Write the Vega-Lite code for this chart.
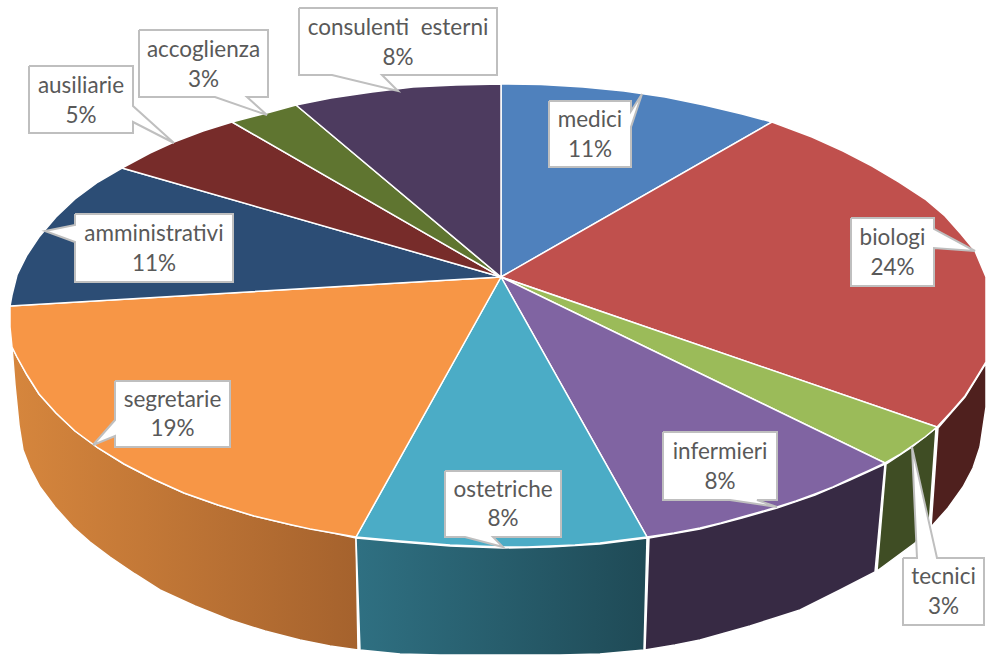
{"$schema":"https://vega.github.io/schema/vega-lite/v6.json","width":986,"height":655,"padding":0,"autosize":{"type":"none"},"background":"white","view":{"stroke":null},
"datasets":{
"tops":[
{"part":"medici","i":0,"x":501,"y":277},{"part":"medici","i":1,"x":501,"y":84},{"part":"medici","i":2,"x":541,"y":84.5},{"part":"medici","i":3,"x":583,"y":87},{"part":"medici","i":4,"x":624,"y":91},{"part":"medici","i":5,"x":665,"y":97},{"part":"medici","i":6,"x":704,"y":105},{"part":"medici","i":7,"x":742,"y":114},{"part":"medici","i":8,"x":772,"y":122},{"part":"medici","i":9,"x":501,"y":277},
{"part":"biologi","i":0,"x":501,"y":277},{"part":"biologi","i":1,"x":772,"y":122},{"part":"biologi","i":2,"x":812,"y":137},{"part":"biologi","i":3,"x":843,"y":151},{"part":"biologi","i":4,"x":872,"y":166},{"part":"biologi","i":5,"x":899,"y":182},{"part":"biologi","i":6,"x":925,"y":199},{"part":"biologi","i":7,"x":945,"y":216},{"part":"biologi","i":8,"x":961,"y":234},{"part":"biologi","i":9,"x":975,"y":251},{"part":"biologi","i":10,"x":986,"y":277},{"part":"biologi","i":11,"x":986,"y":362},{"part":"biologi","i":12,"x":975,"y":380},{"part":"biologi","i":13,"x":965,"y":396},{"part":"biologi","i":14,"x":951,"y":412},{"part":"biologi","i":15,"x":937,"y":427},{"part":"biologi","i":16,"x":501,"y":277},
{"part":"tecnici","i":0,"x":501,"y":277},{"part":"tecnici","i":1,"x":937,"y":427},{"part":"tecnici","i":2,"x":925,"y":437},{"part":"tecnici","i":3,"x":912,"y":446},{"part":"tecnici","i":4,"x":899,"y":455},{"part":"tecnici","i":5,"x":885,"y":463},{"part":"tecnici","i":6,"x":501,"y":277},
{"part":"infermieri","i":0,"x":501,"y":277},{"part":"infermieri","i":1,"x":885,"y":463},{"part":"infermieri","i":2,"x":868,"y":471},{"part":"infermieri","i":3,"x":850,"y":479},{"part":"infermieri","i":4,"x":833,"y":487},{"part":"infermieri","i":5,"x":815,"y":494},{"part":"infermieri","i":6,"x":796,"y":501},{"part":"infermieri","i":7,"x":777,"y":507},{"part":"infermieri","i":8,"x":760,"y":512},{"part":"infermieri","i":9,"x":742,"y":517},{"part":"infermieri","i":10,"x":721,"y":523},{"part":"infermieri","i":11,"x":700,"y":528},{"part":"infermieri","i":12,"x":674,"y":533},{"part":"infermieri","i":13,"x":647,"y":537},{"part":"infermieri","i":14,"x":501,"y":277},
{"part":"ostetriche","i":0,"x":501,"y":277},{"part":"ostetriche","i":1,"x":647,"y":537},{"part":"ostetriche","i":2,"x":623,"y":540},{"part":"ostetriche","i":3,"x":600,"y":543},{"part":"ostetriche","i":4,"x":575,"y":545},{"part":"ostetriche","i":5,"x":550,"y":546},{"part":"ostetriche","i":6,"x":527,"y":547},{"part":"ostetriche","i":7,"x":503,"y":547},{"part":"ostetriche","i":8,"x":477,"y":546},{"part":"ostetriche","i":9,"x":450,"y":545},{"part":"ostetriche","i":10,"x":425,"y":543},{"part":"ostetriche","i":11,"x":400,"y":541},{"part":"ostetriche","i":12,"x":378,"y":539},{"part":"ostetriche","i":13,"x":356,"y":537},{"part":"ostetriche","i":14,"x":501,"y":277},
{"part":"segretarie","i":0,"x":501,"y":277},{"part":"segretarie","i":1,"x":356,"y":537},{"part":"segretarie","i":2,"x":333,"y":533},{"part":"segretarie","i":3,"x":310,"y":529},{"part":"segretarie","i":4,"x":292,"y":525},{"part":"segretarie","i":5,"x":254,"y":516},{"part":"segretarie","i":6,"x":218,"y":505},{"part":"segretarie","i":7,"x":184,"y":493},{"part":"segretarie","i":8,"x":153,"y":479},{"part":"segretarie","i":9,"x":124,"y":464},{"part":"segretarie","i":10,"x":98,"y":448},{"part":"segretarie","i":11,"x":75,"y":431},{"part":"segretarie","i":12,"x":56,"y":413},{"part":"segretarie","i":13,"x":39,"y":394},{"part":"segretarie","i":14,"x":27,"y":375},{"part":"segretarie","i":15,"x":17,"y":357},{"part":"segretarie","i":16,"x":12,"y":347},{"part":"segretarie","i":17,"x":10,"y":327},{"part":"segretarie","i":18,"x":10,"y":306},{"part":"segretarie","i":19,"x":501,"y":277},
{"part":"amministrativi","i":0,"x":501,"y":277},{"part":"amministrativi","i":1,"x":10,"y":306},{"part":"amministrativi","i":2,"x":12,"y":295},{"part":"amministrativi","i":3,"x":17,"y":275},{"part":"amministrativi","i":4,"x":27,"y":255},{"part":"amministrativi","i":5,"x":39,"y":237},{"part":"amministrativi","i":6,"x":56,"y":217},{"part":"amministrativi","i":7,"x":75,"y":199},{"part":"amministrativi","i":8,"x":98,"y":182},{"part":"amministrativi","i":9,"x":122,"y":168},{"part":"amministrativi","i":10,"x":501,"y":277},
{"part":"ausiliarie","i":0,"x":501,"y":277},{"part":"ausiliarie","i":1,"x":122,"y":168},{"part":"ausiliarie","i":2,"x":150,"y":153},{"part":"ausiliarie","i":3,"x":174,"y":142},{"part":"ausiliarie","i":4,"x":203,"y":131},{"part":"ausiliarie","i":5,"x":232,"y":122},{"part":"ausiliarie","i":6,"x":501,"y":277},
{"part":"accoglienza","i":0,"x":501,"y":277},{"part":"accoglienza","i":1,"x":232,"y":122},{"part":"accoglienza","i":2,"x":267,"y":113},{"part":"accoglienza","i":3,"x":296,"y":105},{"part":"accoglienza","i":4,"x":501,"y":277},
{"part":"consulenti \u00a0esterni","i":0,"x":501,"y":277},{"part":"consulenti \u00a0esterni","i":1,"x":296,"y":105},{"part":"consulenti \u00a0esterni","i":2,"x":331,"y":98},{"part":"consulenti \u00a0esterni","i":3,"x":372,"y":92},{"part":"consulenti \u00a0esterni","i":4,"x":413,"y":87},{"part":"consulenti \u00a0esterni","i":5,"x":456,"y":85},{"part":"consulenti \u00a0esterni","i":6,"x":501,"y":84},{"part":"consulenti \u00a0esterni","i":7,"x":501,"y":277}
],
"walls":[
{"part":"segretarie","i":0,"x":12,"y":347},{"part":"segretarie","i":1,"x":17,"y":357},{"part":"segretarie","i":2,"x":27,"y":375},{"part":"segretarie","i":3,"x":39,"y":394},{"part":"segretarie","i":4,"x":56,"y":413},{"part":"segretarie","i":5,"x":75,"y":431},{"part":"segretarie","i":6,"x":98,"y":448},{"part":"segretarie","i":7,"x":124,"y":464},{"part":"segretarie","i":8,"x":153,"y":479},{"part":"segretarie","i":9,"x":184,"y":493},{"part":"segretarie","i":10,"x":218,"y":505},{"part":"segretarie","i":11,"x":254,"y":516},{"part":"segretarie","i":12,"x":292,"y":525},{"part":"segretarie","i":13,"x":333,"y":533},{"part":"segretarie","i":14,"x":356,"y":538},{"part":"segretarie","i":15,"x":358,"y":650},{"part":"segretarie","i":16,"x":330,"y":646},{"part":"segretarie","i":17,"x":300,"y":640},{"part":"segretarie","i":18,"x":265,"y":631},{"part":"segretarie","i":19,"x":230,"y":620},{"part":"segretarie","i":20,"x":195,"y":606},{"part":"segretarie","i":21,"x":160,"y":590},{"part":"segretarie","i":22,"x":135,"y":574},{"part":"segretarie","i":23,"x":110,"y":557},{"part":"segretarie","i":24,"x":90,"y":542},{"part":"segretarie","i":25,"x":73,"y":527},{"part":"segretarie","i":26,"x":55,"y":507},{"part":"segretarie","i":27,"x":40,"y":487},{"part":"segretarie","i":28,"x":30,"y":468},{"part":"segretarie","i":29,"x":23,"y":450},{"part":"segretarie","i":30,"x":19,"y":425},{"part":"segretarie","i":31,"x":15,"y":385},{"part":"segretarie","i":32,"x":12,"y":347},
{"part":"ostetriche","i":0,"x":356,"y":538},{"part":"ostetriche","i":1,"x":400,"y":542},{"part":"ostetriche","i":2,"x":450,"y":546},{"part":"ostetriche","i":3,"x":503,"y":548},{"part":"ostetriche","i":4,"x":550,"y":547},{"part":"ostetriche","i":5,"x":600,"y":544},{"part":"ostetriche","i":6,"x":647,"y":538},{"part":"ostetriche","i":7,"x":644,"y":650},{"part":"ostetriche","i":8,"x":600,"y":654},{"part":"ostetriche","i":9,"x":560,"y":655},{"part":"ostetriche","i":10,"x":440,"y":655},{"part":"ostetriche","i":11,"x":400,"y":654},{"part":"ostetriche","i":12,"x":360,"y":650},{"part":"ostetriche","i":13,"x":356,"y":538},
{"part":"infermieri","i":0,"x":649,"y":538},{"part":"infermieri","i":1,"x":700,"y":529},{"part":"infermieri","i":2,"x":742,"y":518},{"part":"infermieri","i":3,"x":777,"y":508},{"part":"infermieri","i":4,"x":815,"y":495},{"part":"infermieri","i":5,"x":850,"y":480},{"part":"infermieri","i":6,"x":885,"y":464},{"part":"infermieri","i":7,"x":875,"y":572},{"part":"infermieri","i":8,"x":840,"y":590},{"part":"infermieri","i":9,"x":820,"y":600},{"part":"infermieri","i":10,"x":800,"y":610},{"part":"infermieri","i":11,"x":775,"y":618},{"part":"infermieri","i":12,"x":750,"y":626},{"part":"infermieri","i":13,"x":725,"y":633},{"part":"infermieri","i":14,"x":700,"y":640},{"part":"infermieri","i":15,"x":675,"y":645},{"part":"infermieri","i":16,"x":645,"y":650},{"part":"infermieri","i":17,"x":649,"y":538},
{"part":"tecnici","i":0,"x":886,"y":464},{"part":"tecnici","i":1,"x":912,"y":447},{"part":"tecnici","i":2,"x":936,"y":428},{"part":"tecnici","i":3,"x":929,"y":527},{"part":"tecnici","i":4,"x":915,"y":543},{"part":"tecnici","i":5,"x":877,"y":571},{"part":"tecnici","i":6,"x":886,"y":464},
{"part":"biologi","i":0,"x":938,"y":428},{"part":"biologi","i":1,"x":951,"y":413},{"part":"biologi","i":2,"x":965,"y":397},{"part":"biologi","i":3,"x":986,"y":363},{"part":"biologi","i":4,"x":986,"y":407},{"part":"biologi","i":5,"x":980,"y":447},{"part":"biologi","i":6,"x":973,"y":468},{"part":"biologi","i":7,"x":963,"y":487},{"part":"biologi","i":8,"x":948,"y":508},{"part":"biologi","i":9,"x":931,"y":527},{"part":"biologi","i":10,"x":938,"y":428}
],
"callouts":[
{"part":"medici","i":0,"x":549,"y":101},{"part":"medici","i":1,"x":631,"y":101},{"part":"medici","i":2,"x":631,"y":111},{"part":"medici","i":3,"x":642,"y":94},{"part":"medici","i":4,"x":631,"y":127},{"part":"medici","i":5,"x":631,"y":167},{"part":"medici","i":6,"x":549,"y":167},{"part":"medici","i":7,"x":549,"y":101},
{"part":"biologi","i":0,"x":851,"y":218},{"part":"biologi","i":1,"x":934,"y":218},{"part":"biologi","i":2,"x":934,"y":229},{"part":"biologi","i":3,"x":975,"y":251},{"part":"biologi","i":4,"x":934,"y":248},{"part":"biologi","i":5,"x":934,"y":286},{"part":"biologi","i":6,"x":851,"y":286},{"part":"biologi","i":7,"x":851,"y":218},
{"part":"tecnici","i":0,"x":903,"y":558},{"part":"tecnici","i":1,"x":917,"y":558},{"part":"tecnici","i":2,"x":912,"y":447},{"part":"tecnici","i":3,"x":937,"y":558},{"part":"tecnici","i":4,"x":984,"y":558},{"part":"tecnici","i":5,"x":984,"y":625},{"part":"tecnici","i":6,"x":903,"y":625},{"part":"tecnici","i":7,"x":903,"y":558},
{"part":"infermieri","i":0,"x":663,"y":432},{"part":"infermieri","i":1,"x":777,"y":432},{"part":"infermieri","i":2,"x":777,"y":500},{"part":"infermieri","i":3,"x":757,"y":500},{"part":"infermieri","i":4,"x":777,"y":507},{"part":"infermieri","i":5,"x":730,"y":500},{"part":"infermieri","i":6,"x":663,"y":500},{"part":"infermieri","i":7,"x":663,"y":432},
{"part":"ostetriche","i":0,"x":445,"y":471},{"part":"ostetriche","i":1,"x":561,"y":471},{"part":"ostetriche","i":2,"x":561,"y":537},{"part":"ostetriche","i":3,"x":493,"y":537},{"part":"ostetriche","i":4,"x":503,"y":547},{"part":"ostetriche","i":5,"x":465,"y":537},{"part":"ostetriche","i":6,"x":445,"y":537},{"part":"ostetriche","i":7,"x":445,"y":471},
{"part":"segretarie","i":0,"x":115,"y":381},{"part":"segretarie","i":1,"x":230,"y":381},{"part":"segretarie","i":2,"x":230,"y":447},{"part":"segretarie","i":3,"x":115,"y":447},{"part":"segretarie","i":4,"x":115,"y":436},{"part":"segretarie","i":5,"x":93,"y":445},{"part":"segretarie","i":6,"x":115,"y":420},{"part":"segretarie","i":7,"x":115,"y":381},
{"part":"amministrativi","i":0,"x":75,"y":214},{"part":"amministrativi","i":1,"x":233,"y":214},{"part":"amministrativi","i":2,"x":233,"y":282},{"part":"amministrativi","i":3,"x":75,"y":282},{"part":"amministrativi","i":4,"x":75,"y":242},{"part":"amministrativi","i":5,"x":45,"y":231},{"part":"amministrativi","i":6,"x":75,"y":225},{"part":"amministrativi","i":7,"x":75,"y":214},
{"part":"ausiliarie","i":0,"x":29,"y":66},{"part":"ausiliarie","i":1,"x":133,"y":66},{"part":"ausiliarie","i":2,"x":133,"y":106},{"part":"ausiliarie","i":3,"x":174,"y":143},{"part":"ausiliarie","i":4,"x":133,"y":122},{"part":"ausiliarie","i":5,"x":133,"y":133},{"part":"ausiliarie","i":6,"x":29,"y":133},{"part":"ausiliarie","i":7,"x":29,"y":66},
{"part":"accoglienza","i":0,"x":139,"y":30},{"part":"accoglienza","i":1,"x":268,"y":30},{"part":"accoglienza","i":2,"x":268,"y":97},{"part":"accoglienza","i":3,"x":247,"y":97},{"part":"accoglienza","i":4,"x":267,"y":115},{"part":"accoglienza","i":5,"x":215,"y":97},{"part":"accoglienza","i":6,"x":139,"y":97},{"part":"accoglienza","i":7,"x":139,"y":30},
{"part":"consulenti \u00a0esterni","i":0,"x":299,"y":8},{"part":"consulenti \u00a0esterni","i":1,"x":497,"y":8},{"part":"consulenti \u00a0esterni","i":2,"x":497,"y":75},{"part":"consulenti \u00a0esterni","i":3,"x":382,"y":75},{"part":"consulenti \u00a0esterni","i":4,"x":398,"y":91},{"part":"consulenti \u00a0esterni","i":5,"x":332,"y":75},{"part":"consulenti \u00a0esterni","i":6,"x":299,"y":75},{"part":"consulenti \u00a0esterni","i":7,"x":299,"y":8}
],
"labels":[
{"part":"medici","share":0.11,"cx":590,"y1":120,"y2":150},
{"part":"biologi","share":0.24,"cx":892.5,"y1":238,"y2":268},
{"part":"tecnici","share":0.03,"cx":943.5,"y1":577,"y2":607},
{"part":"infermieri","share":0.08,"cx":720,"y1":452,"y2":482},
{"part":"ostetriche","share":0.08,"cx":503,"y1":490,"y2":519},
{"part":"segretarie","share":0.19,"cx":172.5,"y1":400,"y2":429},
{"part":"amministrativi","share":0.11,"cx":154,"y1":234,"y2":264},
{"part":"ausiliarie","share":0.05,"cx":81,"y1":86,"y2":116},
{"part":"accoglienza","share":0.03,"cx":203.5,"y1":50,"y2":80},
{"part":"consulenti \u00a0esterni","share":0.08,"cx":398,"y1":28,"y2":58}
]},
"encoding":{
"x":{"field":"x","type":"quantitative","scale":{"domain":[0,986],"nice":false,"zero":false},"axis":null},
"y":{"field":"y","type":"quantitative","scale":{"domain":[655,0],"nice":false,"zero":false},"axis":null}
},
"layer":[
{"data":{"name":"walls"},"transform":[{"filter":"datum.part=='segretarie'"}],"mark":{"type":"line","strokeWidth":1.5,"stroke":"white","fill":{"gradient":"linear","x1":0,"x2":1,"y1":0,"y2":0,"stops":[{"offset":0,"color":"#D6863D"},{"offset":1,"color":"#A5622D"}]}},"encoding":{"order":{"field":"i"}}},
{"data":{"name":"walls"},"transform":[{"filter":"datum.part=='ostetriche'"}],"mark":{"type":"line","strokeWidth":1.5,"stroke":"white","fill":{"gradient":"linear","x1":0,"x2":1,"y1":0,"y2":0,"stops":[{"offset":0,"color":"#2F7082"},{"offset":1,"color":"#1F4A56"}]}},"encoding":{"order":{"field":"i"}}},
{"data":{"name":"walls"},"transform":[{"filter":"datum.part=='infermieri'"}],"mark":{"type":"line","strokeWidth":1.5,"stroke":"white","fill":"#372A44"},"encoding":{"order":{"field":"i"}}},
{"data":{"name":"walls"},"transform":[{"filter":"datum.part=='tecnici'"}],"mark":{"type":"line","strokeWidth":1.5,"stroke":"white","fill":"#3F4D24"},"encoding":{"order":{"field":"i"}}},
{"data":{"name":"walls"},"transform":[{"filter":"datum.part=='biologi'"}],"mark":{"type":"line","strokeWidth":1.5,"stroke":"white","fill":"#4F201E"},"encoding":{"order":{"field":"i"}}},
{"data":{"name":"tops"},"mark":{"type":"line","strokeWidth":1.5,"stroke":"white"},"encoding":{"order":{"field":"i"},"fill":{"field":"part","type":"nominal","legend":null,"scale":{"domain":["medici","biologi","tecnici","infermieri","ostetriche","segretarie","amministrativi","ausiliarie","accoglienza","consulenti \u00a0esterni"],"range":["#4F81BD","#C0504D","#9BBB59","#8064A2","#4BACC6","#F79646","#2C4D75","#772C2A","#5F7530","#4D3B5F"]}}}},
{"data":{"name":"callouts"},"mark":{"type":"line","strokeWidth":2,"stroke":"#BFBFBF","fill":"white"},"encoding":{"order":{"field":"i"},"detail":{"field":"part"}}},
{"data":{"name":"labels"},"mark":{"type":"text","font":"Lato","fontSize":22.5,"color":"#595959","baseline":"middle","align":"center"},"encoding":{"x":{"field":"cx","type":"quantitative","scale":{"domain":[0,986],"nice":false,"zero":false},"axis":null},"y":{"field":"y1","type":"quantitative","scale":{"domain":[655,0],"nice":false,"zero":false},"axis":null},"text":{"field":"part"}}},
{"data":{"name":"labels"},"mark":{"type":"text","font":"Lato","fontSize":22.5,"color":"#595959","baseline":"middle","align":"center"},"encoding":{"x":{"field":"cx","type":"quantitative","scale":{"domain":[0,986],"nice":false,"zero":false},"axis":null},"y":{"field":"y2","type":"quantitative","scale":{"domain":[655,0],"nice":false,"zero":false},"axis":null},"text":{"field":"share","type":"quantitative","format":".0%"}}}
]}
